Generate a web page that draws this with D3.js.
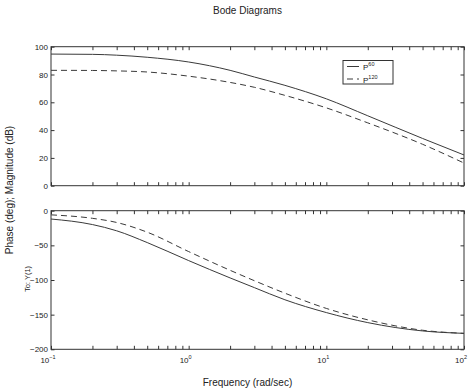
<!DOCTYPE html>
<html>
<head>
<meta charset="utf-8">
<style>
  body { margin: 0; background: #fff; }
  text { font-family: "Liberation Sans", Arial, sans-serif; fill: #222; }
</style>
</head>
<body>
<svg width="474" height="388"></svg>
<script src="https://cdn.jsdelivr.net/npm/d3@7"></script>
<script>

// frequency points (rad/sec)
var freq = [0.1, 0.2, 0.3, 0.5, 1, 2, 3, 5, 10, 20, 50, 100];
// magnitude (dB)
var magP60  = [94.7, 94.5, 93.9, 92.4, 89.0, 83.0, 78.2, 72.2, 62.5, 50.3, 34.0, 22.1];
var magP120 = [83.0, 82.9, 82.6, 81.8, 78.8, 74.3, 70.8, 65.0, 56.0, 45.2, 29.8, 16.3];
// phase (deg)
var phP60  = [-12, -20, -29, -46, -72, -97, -111, -128.5, -147, -161.5, -173.5, -177];
var phP120 = [-6, -11, -17, -31, -59, -86, -101, -119, -141, -157.5, -172.5, -177];

var magTicks = [0, 20, 40, 60, 80, 100];
var phTicks = [0, -50, -100, -150, -200];
var decades = [0.1, 1, 10, 100];
var decadeExp = ["\u22121", "0", "1", "2"];
var seriesNames = ["60", "120"];

var svg = d3.select("svg"),
    left = 51, right = 464,
    topMag = 46.7, botMag = 185.7,
    topPh = 210.7, botPh = 349.3,
    axisColor = "#333",
    lineColor = "#3a3a3a";

var x = d3.scaleLog().domain([0.1, 100]).range([left, right]);
var yMag = d3.scaleLinear().domain([0, 100]).range([botMag, topMag]);
var yPh = d3.scaleLinear().domain([-200, 0]).range([botPh, topPh]);

// minor log ticks 2..9 per decade
var minor = [];
decades.slice(0, 3).forEach(function(d) {
  for (var k = 2; k <= 9; k++) minor.push(d * k);
});

function panel(y, ticks) {
  var g = svg.append("g");
  var h = y.range()[0] - y.range()[1];
  var w = right - left;

  // bottom + top ticks (inside)
  g.append("g")
      .attr("transform", "translate(0," + y.range()[0] + ")")
      .call(d3.axisBottom(x).tickValues(decades.concat(minor)).tickSize(-3.5).tickFormat(""))
      .call(function(a) { a.select(".domain").remove(); a.selectAll("line").attr("stroke", axisColor); });
  g.append("g")
      .attr("transform", "translate(0," + y.range()[1] + ")")
      .call(d3.axisTop(x).tickValues(decades.concat(minor)).tickSize(-3.5).tickFormat(""))
      .call(function(a) { a.select(".domain").remove(); a.selectAll("line").attr("stroke", axisColor); });

  // left ticks with labels, right ticks
  g.append("g")
      .attr("transform", "translate(" + left + ",0)")
      .call(d3.axisLeft(y).tickValues(ticks).tickSize(-3.5).tickPadding(3).tickFormat(function(d) {
        return d < 0 ? "\u2212" + Math.abs(d) : d;
      }))
      .call(function(a) {
        a.select(".domain").remove();
        a.selectAll("line").attr("stroke", axisColor);
        a.selectAll("text").attr("font-size", 8).attr("fill", "#222")
          .attr("font-family", "Liberation Sans, Arial, sans-serif");
      });
  g.append("g")
      .attr("transform", "translate(" + right + ",0)")
      .call(d3.axisRight(y).tickValues(ticks).tickSize(-3.5).tickFormat(""))
      .call(function(a) { a.select(".domain").remove(); a.selectAll("line").attr("stroke", axisColor); });

  g.append("rect")
      .attr("x", left).attr("y", y.range()[1])
      .attr("width", w).attr("height", h)
      .attr("fill", "none")
      .attr("stroke", axisColor)
      .attr("stroke-width", 1);
  return g;
}

var gMag = panel(yMag, magTicks);
var gPh = panel(yPh, phTicks);

function drawLine(g, y, vals, dashed) {
  var line = d3.line()
      .x(function(d, i) { return x(freq[i]); })
      .y(function(d) { return y(d); })
      .curve(d3.curveMonotoneX);
  g.append("path")
      .datum(vals)
      .attr("fill", "none")
      .attr("stroke", lineColor)
      .attr("stroke-width", 1)
      .style("stroke-dasharray", dashed ? "6,4" : null)
      .attr("d", line);
}

drawLine(gMag, yMag, magP60, false);
drawLine(gMag, yMag, magP120, true);
drawLine(gPh, yPh, phP60, false);
drawLine(gPh, yPh, phP120, true);

// decade labels 10^n under bottom panel
var lab = svg.append("g").selectAll("text")
    .data(decades)
    .enter().append("text")
    .attr("x", function(d) { return x(d) - 3; })
    .attr("y", 363)
    .attr("text-anchor", "middle")
    .attr("font-size", 8);
lab.append("tspan").text("10");
lab.append("tspan")
    .attr("dy", -4)
    .attr("font-size", 5.5)
    .text(function(d, i) { return decadeExp[i]; });

// titles
svg.append("text")
    .attr("x", 247.5).attr("y", 14)
    .attr("text-anchor", "middle")
    .attr("font-size", 10)
    .text("Bode Diagrams");

svg.append("text")
    .attr("x", 247.5).attr("y", 386)
    .attr("text-anchor", "middle")
    .attr("font-size", 10)
    .text("Frequency (rad/sec)");

svg.append("text")
    .attr("transform", "translate(13,190) rotate(-90)")
    .attr("text-anchor", "middle")
    .attr("font-size", 10)
    .text("Phase (deg); Magnitude (dB)");

svg.append("text")
    .attr("transform", "translate(30,279) rotate(-90)")
    .attr("text-anchor", "middle")
    .attr("font-size", 7.5)
    .text("To: Y(1)");

// legend
var leg = svg.append("g");
leg.append("rect")
    .attr("x", 343).attr("y", 60.5)
    .attr("width", 50).attr("height", 23.5)
    .attr("fill", "#fff")
    .attr("stroke", axisColor);
seriesNames.forEach(function(n, i) {
  var ly = 66.5 + i * 12.5;
  leg.append("line")
      .attr("x1", 347).attr("x2", 359)
      .attr("y1", ly).attr("y2", ly)
      .attr("stroke", lineColor)
      .style("stroke-dasharray", i == 1 ? "6,4" : null);
  var t = leg.append("text")
      .attr("x", 363).attr("y", ly + 3.5)
      .attr("font-size", 8);
  t.append("tspan").text("P");
  t.append("tspan").attr("dy", -4).attr("font-size", 5.5).text(n);
});

</script>
</body>
</html>
